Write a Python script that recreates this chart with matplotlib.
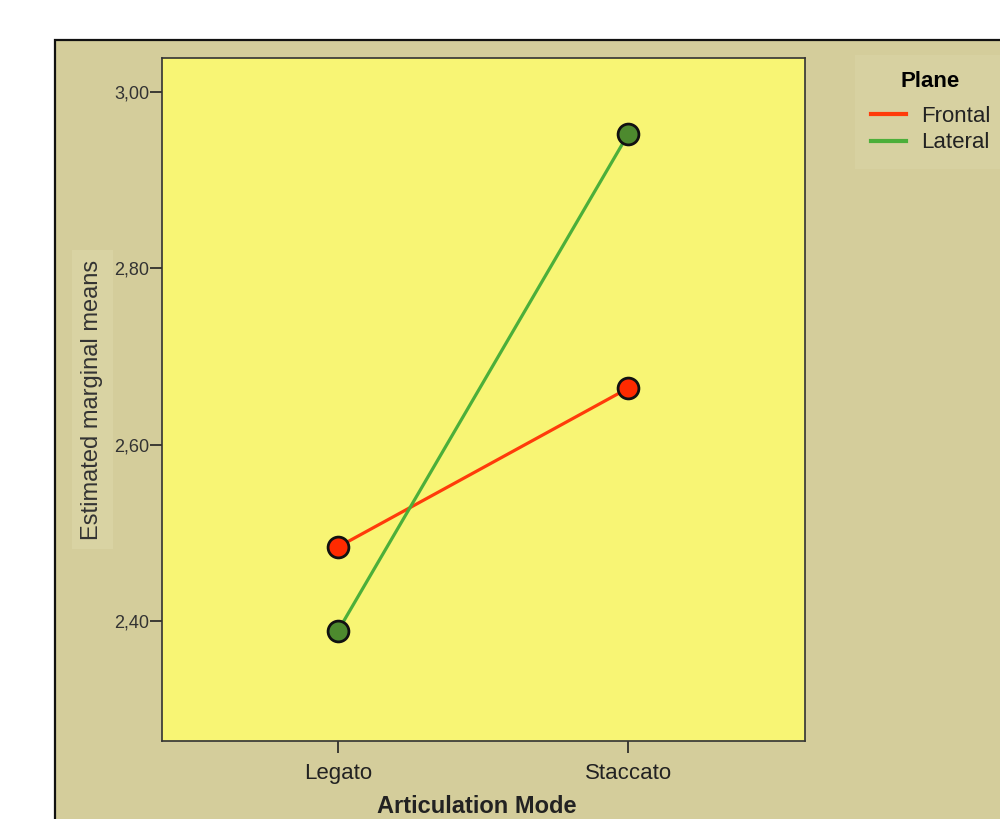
import matplotlib.pyplot as plt
from matplotlib.patches import Rectangle
from matplotlib.lines import Line2D

plt.rcParams['font.family'] = ['Liberation Sans', 'DejaVu Sans']

modes = ["Legato", "Staccato"]
frontal = [2.484, 2.664]
lateral = [2.389, 2.952]
yticks = [2.40, 2.60, 2.80, 3.00]
ytick_labels = ["2,40", "2,60", "2,80", "3,00"]

tan = '#d4cd9b'
yellow = '#f8f574'

fig = plt.figure(figsize=(10, 8.19), dpi=100)
fig.patch.set_facecolor('white')

# outer tan panel with black border at left and top
panel = Rectangle((0.055, -0.1), 1.0, 1.0 - 40 / 819 + 0.1, transform=fig.transFigure,
                  facecolor=tan, edgecolor='#111111', linewidth=1.6, zorder=-5)
fig.patches.append(panel)

ax = fig.add_axes([0.162, 0.0952, 0.643, 0.834])
ax.set_facecolor(yellow)
x = list(range(len(modes)))

ax.plot(x, frontal, color='#ff3b0a', lw=2.3, zorder=2)
ax.plot(x, lateral, color='#4caf3a', lw=2.3, zorder=2)
ax.plot(x, frontal, 'o', ms=15, mfc='#ff2a00', mec='#111111', mew=2, zorder=3)
ax.plot(x, lateral, 'o', ms=15, mfc='#4d8a2e', mec='#111111', mew=2, zorder=3)

ax.set_xlim(-0.607, 1.61)
ax.set_ylim(2.264, 3.0385)
ax.set_xticks(x)
ax.set_xticklabels(modes, fontsize=16, color='#222222')
ax.set_yticks(yticks)
ax.set_yticklabels(ytick_labels, fontsize=13, color='#333333')
ax.tick_params(axis='both', direction='out', length=8.5, width=1.2, color='#222222')
ax.tick_params(axis='x', pad=7)
ax.tick_params(axis='y', pad=0.5)
for s in ax.spines.values():
    s.set_color('#333333')
    s.set_linewidth(1.2)

ax.set_ylabel("Estimated marginal means", fontsize=17, color='#333333', labelpad=8,
              bbox=dict(facecolor='#d9d3a3', edgecolor='none', pad=7))
fig.text(0.477, 1 - 813 / 819, "Articulation Mode", fontsize=17, fontweight='bold',
         color='#222222', ha='center', va='baseline')

handles = [Line2D([], [], color='#ff3b0a', lw=3), Line2D([], [], color='#4caf3a', lw=3)]
leg = fig.legend(handles, ["Frontal", "Lateral"], loc='upper left',
                 bbox_to_anchor=(0.862, 1 - 62 / 819), fontsize=16, frameon=True,
                 title="Plane", handlelength=1.6, handletextpad=0.65, labelspacing=0.25,
                 borderpad=0.4, borderaxespad=0)
leg._legend_box.sep = 10
leg.get_title().set_fontweight('bold')
leg.get_title().set_fontsize(16)
leg.get_frame().set_facecolor('#d9d3a3')
leg.get_frame().set_edgecolor('none')
leg.get_frame().set_boxstyle('square')
for t in leg.get_texts():
    t.set_color('#222222')

fig.savefig('out.png', dpi=100)
